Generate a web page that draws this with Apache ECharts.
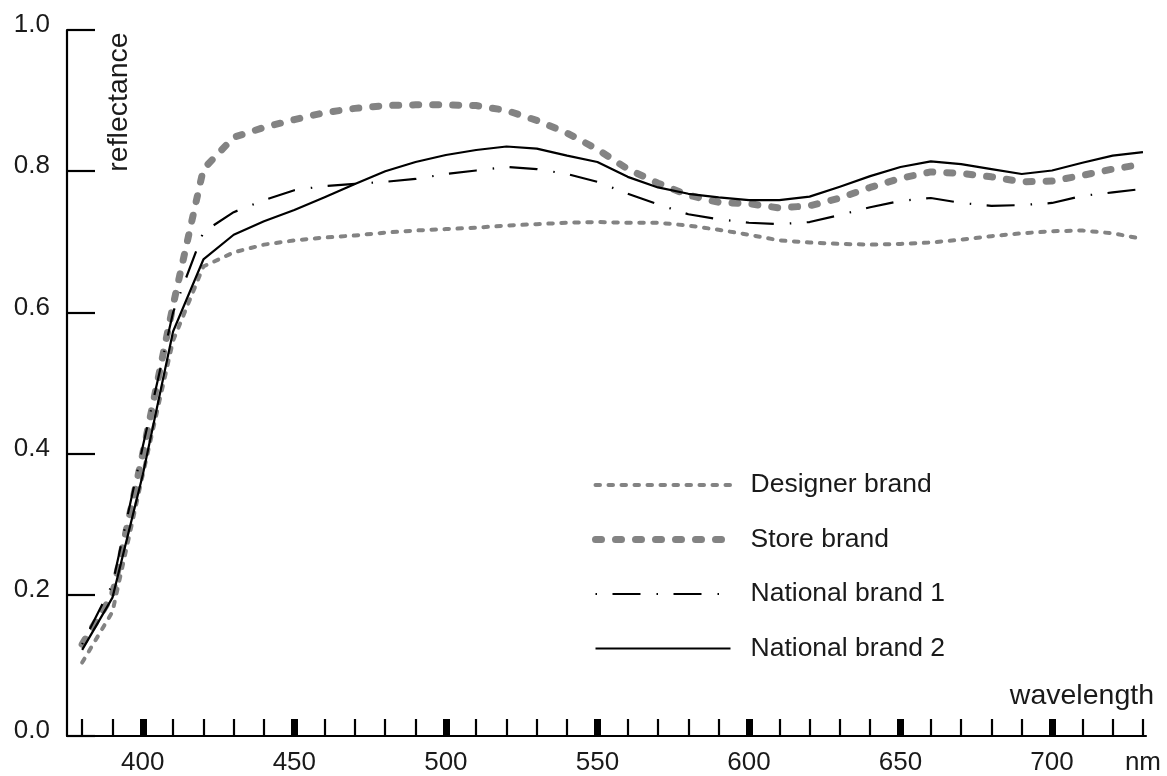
<!DOCTYPE html>
<html><head><meta charset="utf-8">
<script src="https://cdn.jsdelivr.net/npm/echarts@6/dist/echarts.min.js"></script>
<style>html,body{margin:0;padding:0;background:#fff}#c{width:1167px;height:776px}</style>
</head><body><div id="c"></div>
<script>
const wavelengths = [380,390,400,410,420,430,440,450,460,470,480,490,500,510,520,530,540,550,560,570,580,590,600,610,620,630,640,650,660,670,680,690,700,710,720,730];
const designerBrand = [0.104,0.176,0.37,0.56,0.665,0.685,0.696,0.702,0.706,0.709,0.713,0.716,0.718,0.72,0.723,0.725,0.727,0.728,0.727,0.727,0.723,0.717,0.71,0.702,0.699,0.697,0.696,0.697,0.699,0.703,0.708,0.712,0.715,0.716,0.712,0.704];
const storeBrand = [0.13,0.20,0.40,0.61,0.803,0.848,0.862,0.873,0.883,0.889,0.893,0.894,0.894,0.893,0.886,0.872,0.854,0.831,0.803,0.783,0.766,0.756,0.754,0.748,0.751,0.762,0.777,0.79,0.799,0.797,0.792,0.785,0.786,0.794,0.803,0.81];
const nationalBrand1 = [0.13,0.215,0.41,0.60,0.714,0.742,0.759,0.773,0.779,0.782,0.785,0.789,0.796,0.801,0.806,0.803,0.796,0.785,0.768,0.753,0.739,0.732,0.727,0.725,0.728,0.738,0.749,0.758,0.762,0.755,0.751,0.752,0.755,0.765,0.77,0.775];
const nationalBrand2 = [0.122,0.196,0.37,0.573,0.675,0.71,0.729,0.745,0.763,0.782,0.80,0.813,0.823,0.83,0.835,0.832,0.822,0.813,0.792,0.777,0.768,0.763,0.759,0.759,0.764,0.778,0.793,0.806,0.814,0.81,0.803,0.796,0.801,0.812,0.822,0.827];
const seriesNames = ['Designer brand','Store brand','National brand 1','National brand 2'];
const xMinorTicks = [380,390,400,410,420,430,440,450,460,470,480,490,500,510,520,530,540,550,560,570,580,590,600,610,620,630,640,650,660,670,680,690,700,710,720,730];
const xMajorTicks = [400,450,500,550,600,650,700];
const xLabelValues = [400,450,500,550,600,650,700,730];
const xLabelText = ['400','450','500','550','600','650','700','nm'];
const xTitle = 'wavelength';
const yTitle = 'reflectance';

const FONT = "'Liberation Sans', Arial, sans-serif";
const TXT = '#1a1a1a';
const chart = echarts.init(document.getElementById('c'));
const pairs = arr => wavelengths.map((w,i)=>[w,arr[i]]);
const styles = [
  {color:'#838383', width:4, type:[4.5,8.5], cap:'round'},
  {color:'#838383', width:7, type:[6,14], cap:'round'},
  {color:'#000', width:2.2, type:[1.5,15.5,28,16], cap:'butt'},
  {color:'#000', width:2.2, type:'solid', cap:'butt'}
];
const datas = [designerBrand, storeBrand, nationalBrand1, nationalBrand2];

chart.setOption({
  animation:false,
  backgroundColor:'#fff',
  grid:{left:67, right:21, top:30, bottom:34.5, containLabel:false},
  legend:{
    orient:'vertical', left:592, top:467, padding:0,
    itemWidth:135, itemHeight:14, itemGap:18.5,
    itemStyle:{color:'rgba(0,0,0,0)', borderColor:'rgba(0,0,0,0)', borderWidth:0},
    lineStyle:{width:'inherit', type:'inherit', cap:'inherit'},
    textStyle:{fontFamily:FONT, fontSize:26.5, color:TXT, lineHeight:20, padding:[0,0,16,15]},
    data:seriesNames
  },
  xAxis:[{
    type:'value', min:375, max:731,
    axisLine:{show:true, onZero:false, lineStyle:{color:'#000', width:2.2}},
    axisTick:{show:true, inside:true, length:17, customValues:xMinorTicks, lineStyle:{color:'#000', width:2.2}},
    axisLabel:{show:true, customValues:xLabelValues, margin:14, fontFamily:FONT, fontSize:26, color:TXT,
      formatter:v=>{const i=xLabelValues.indexOf(v); return i>=0?xLabelText[i]:'';}},
    splitLine:{show:false}
  },{
    type:'value', min:375, max:731, position:'bottom', offset:0,
    axisLine:{show:false},
    axisTick:{show:true, inside:true, length:17, customValues:xMajorTicks, lineStyle:{color:'#000', width:7}},
    axisLabel:{show:false},
    splitLine:{show:false}
  }],
  yAxis:{
    type:'value', min:0, max:1, interval:0.2,
    axisLine:{show:true, onZero:false, lineStyle:{color:'#000', width:2.2}},
    axisTick:{show:true, inside:true, length:28, lineStyle:{color:'#000', width:2.2}},
    axisLabel:{margin:17, fontFamily:FONT, fontSize:26, color:TXT, verticalAlign:'bottom', lineHeight:10, formatter:v=>v.toFixed(1)},
    splitLine:{show:false}
  },
  graphic:[
    {type:'text', x:119, y:102, rotation:Math.PI/2, style:{text:yTitle, font:"28.5px "+FONT, fill:TXT, align:'center', verticalAlign:'middle'}},
    {type:'text', x:1154, y:696, style:{text:xTitle, font:"28.5px "+FONT, fill:TXT, align:'right', verticalAlign:'middle'}}
  ],
  series: seriesNames.map((n,i)=>({
    name:n, type:'line', xAxisIndex:0, data:pairs(datas[i]), symbol:'none', smooth:false,
    lineStyle:{color:styles[i].color, width:styles[i].width, type:styles[i].type, cap:styles[i].cap, join:'round'},
    itemStyle:{color:styles[i].color}, z:2+i
  }))
});
</script></body></html>
